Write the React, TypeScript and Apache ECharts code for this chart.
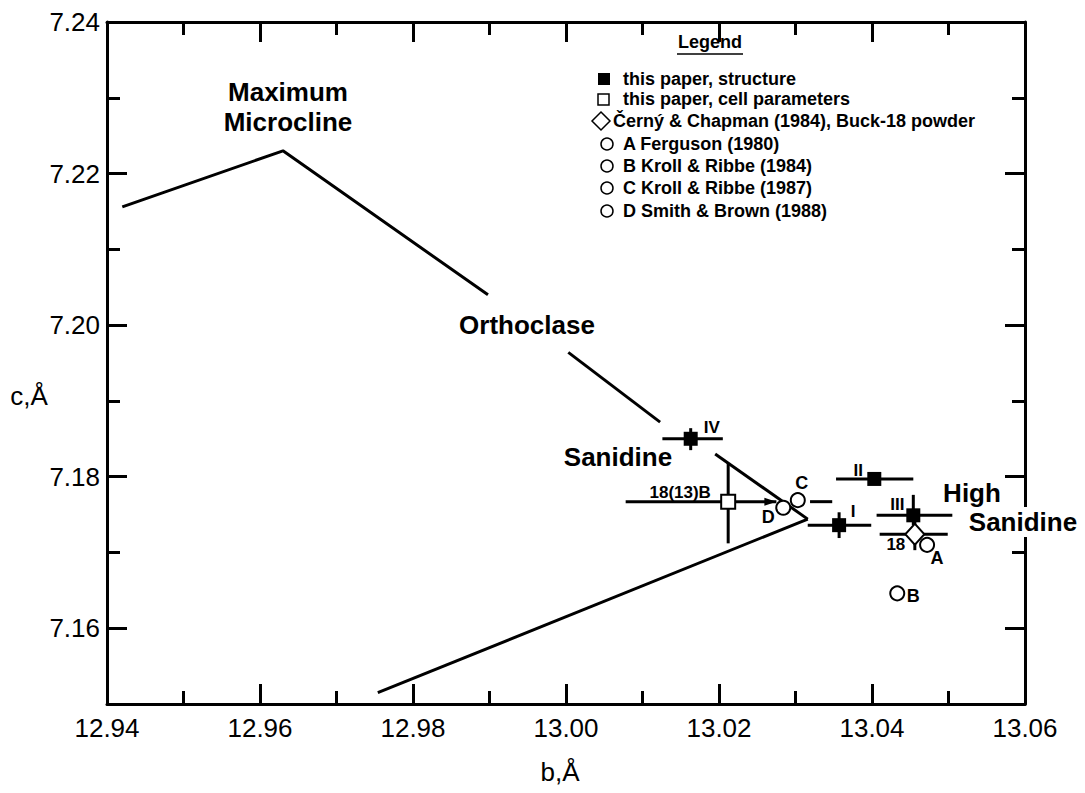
import React, { useEffect, useRef } from "react";
import * as echarts from "echarts";

// ---------- axis ticks ----------
const bTicksMajor = [12.94, 12.96, 12.98, 13.0, 13.02, 13.04, 13.06];
const bTicksMinor = [12.95, 12.97, 12.99, 13.01, 13.03, 13.05];
const cTicksMajor = [7.16, 7.18, 7.2, 7.22, 7.24];
const cTicksMinor = [7.17, 7.19, 7.21, 7.23];

// ---------- trend lines ----------
const microclineB = [12.942, 12.963, 12.9898];
const microclineC = [7.2156, 7.223, 7.204];
const orthoclaseB = [13.0003, 13.0123];
const orthoclaseC = [7.1964, 7.1872];
const sanidineUpperB = [13.0195, 13.0316];
const sanidineUpperC = [7.183, 7.1744];
const sanidineLowerB = [12.9754, 13.0316];
const sanidineLowerC = [7.1515, 7.1744];

// ---------- this paper, structure ----------
const structureNames = ["IV", "II", "I", "III"];
const structureB = [13.0163, 13.0403, 13.0357, 13.0454];
const structureC = [7.185, 7.1797, 7.1736, 7.1749];

// ---------- this paper, cell parameters ----------
const cellNames = ["18(13)B"];
const cellB = [13.0212];
const cellC = [7.1767];

// ---------- Černý & Chapman (1984) ----------
const buckNames = ["18"];
const buckB = [13.0456];
const buckC = [7.1724];

// ---------- literature ----------
const litNames = ["A", "B", "C", "D"];
const litB = [13.0472, 13.0433, 13.0303, 13.0284];
const litC = [7.171, 7.1646, 7.1769, 7.1759];

// ---------- error bars ----------
const errB = [13.0163, 13.0403, 13.0357, 13.0454, 13.0212, 13.0456, 13.0303];
const errC = [7.185, 7.1797, 7.1736, 7.1749, 7.1767, 7.1724, 7.1767];
const errBLo = [13.0126, 13.0353, 13.0316, 13.0406, 13.0078, 13.041, 13.0319];
const errBHi = [13.0205, 13.0454, 13.0399, 13.0505, 13.0275, 13.0499, 13.0348];
const errCLo = [7.1835, 7.1797, 7.1719, 7.1736, 7.1712, 7.1703, 7.1767];
const errCHi = [7.1864, 7.1797, 7.1753, 7.1776, 7.1818, 7.1745, 7.1767];
const errArrow = [0, 0, 0, 0, 1, 0, 0];

// ---------- legend ----------
const legendLabels = [
  "this paper, structure",
  "this paper, cell parameters",
  "Černý & Chapman (1984), Buck-18 powder",
  "A Ferguson (1980)",
  "B Kroll & Ribbe (1984)",
  "C Kroll & Ribbe (1987)",
  "D Smith & Brown (1988)",
];
const legendKinds = ["filled", "open", "diamond", "circle", "circle", "circle", "circle"];

// label offsets (layout, px)
const structureLabelOffsets = [[21, -11], [-16, -8], [14, -14], [-16, -11]];
const cellLabelOffsets = [[-48, -9]];
const buckLabelOffsets = [[-19, 10]];
const litLabelOffsets = [[10, 13], [16, 3], [4, -17], [-15, 9]];

const FONT = '"Liberation Sans", Arial, Helvetica, sans-serif';
const BLACK = "#000";

function pts(bs: number[], cs: number[]) {
  return bs.map((b, i) => [b, cs[i]]);
}

function labeled(names: string[], bs: number[], cs: number[], offs: number[][]) {
  return names.map((n, i) => ({
    name: n,
    value: [bs[i], cs[i]],
    label: { offset: offs[i] },
  }));
}

const pointLabel = {
  show: true,
  position: "inside",
  formatter: "{b}",
  color: BLACK,
  fontFamily: FONT,
  fontWeight: "bold",
  fontSize: 17,
};

function xAxisDef(position: string, ticks: number[], len: number, main: boolean, labels: boolean) {
  return {
    type: "value",
    position,
    min: 12.94,
    max: 13.06,
    splitLine: { show: false },
    axisLine: { show: main, onZero: false, lineStyle: { color: BLACK, width: 3 } },
    axisTick: { show: true, inside: true, length: len, customValues: ticks, lineStyle: { color: BLACK, width: 3 } },
    axisLabel: labels
      ? {
          show: true,
          customValues: ticks,
          formatter: (v: number) => v.toFixed(2),
          color: BLACK,
          fontFamily: FONT,
          fontSize: 26,
          margin: 11,
        }
      : { show: false },
  };
}

function yAxisDef(position: string, ticks: number[], len: number, main: boolean, labels: boolean) {
  return {
    type: "value",
    position,
    min: 7.15,
    max: 7.24,
    splitLine: { show: false },
    axisLine: { show: main, onZero: false, lineStyle: { color: BLACK, width: 3 } },
    axisTick: { show: true, inside: true, length: len, customValues: ticks, lineStyle: { color: BLACK, width: 3 } },
    axisLabel: labels
      ? {
          show: true,
          customValues: ticks,
          formatter: (v: number) => v.toFixed(2),
          color: BLACK,
          fontFamily: FONT,
          fontSize: 26,
          margin: 7,
        }
      : { show: false },
  };
}

function lineSeries(name: string, bs: number[], cs: number[]) {
  return {
    type: "line",
    name,
    data: pts(bs, cs),
    symbol: "none",
    lineStyle: { color: BLACK, width: 3 },
    z: 3,
  };
}

function buildLegendGraphics() {
  const rowsY = [79, 99, 121, 144, 166, 188, 211];
  const els: any[] = [
    {
      type: "text",
      z: 20,
      style: {
        text: "Legend",
        x: 710,
        y: 42,
        textAlign: "center",
        textVerticalAlign: "middle",
        fontFamily: FONT,
        fontWeight: "bold",
        fontSize: 18,
        fill: BLACK,
      },
    },
    { type: "line", z: 20, shape: { x1: 677, y1: 54, x2: 743, y2: 54 }, style: { stroke: BLACK, lineWidth: 1.5 } },
  ];
  legendLabels.forEach((t, i) => {
    const y = rowsY[i];
    const kind = legendKinds[i];
    let tx = 623;
    if (kind === "filled") {
      els.push({ type: "rect", z: 20, shape: { x: 598, y: y - 6, width: 12, height: 12 }, style: { fill: BLACK } });
    } else if (kind === "open") {
      els.push({ type: "rect", z: 20, shape: { x: 598, y: y - 5, width: 11, height: 11 }, style: { fill: "#fff", stroke: BLACK, lineWidth: 1.5 } });
    } else if (kind === "diamond") {
      els.push({
        type: "polygon",
        z: 20,
        shape: { points: [[601, y - 9], [610, y], [601, y + 9], [592, y]] },
        style: { fill: "#fff", stroke: BLACK, lineWidth: 1.5 },
      });
      tx = 613;
    } else {
      els.push({ type: "circle", z: 20, shape: { cx: 607, cy: y, r: 6 }, style: { fill: "#fff", stroke: BLACK, lineWidth: 1.5 } });
    }
    els.push({
      type: "text",
      z: 20,
      style: {
        text: t,
        x: tx,
        y,
        textAlign: "left",
        textVerticalAlign: "middle",
        fontFamily: FONT,
        fontWeight: "bold",
        fontSize: 18,
        fill: BLACK,
      },
    });
  });
  return els;
}

function annot(text: string, x: number, y: number, bg?: boolean) {
  return {
    type: "text",
    z: 20,
    style: {
      text,
      x,
      y,
      textAlign: "center",
      textVerticalAlign: "middle",
      fontFamily: FONT,
      fontWeight: "bold",
      fontSize: 26,
      fill: BLACK,
      backgroundColor: bg ? "#fff" : undefined,
      padding: bg ? [2, 2] : 0,
    },
  };
}

export default function App() {
  const ref = useRef<HTMLDivElement>(null);
  useEffect(() => {
    if (!ref.current) return;
    const chart = echarts.init(ref.current, null, { renderer: "svg" });
    const errData = errB.map((b, i) => [b, errC[i], errBLo[i], errBHi[i], errCLo[i], errCHi[i], errArrow[i]]);
    const option: any = {
      animation: false,
      backgroundColor: "#fff",
      grid: { left: 107, right: 60, top: 22, bottom: 89, containLabel: false },
      xAxis: [
        xAxisDef("bottom", bTicksMajor, 20, true, true),
        xAxisDef("bottom", bTicksMinor, 13, false, false),
        xAxisDef("top", bTicksMajor, 20, true, false),
        xAxisDef("top", bTicksMinor, 13, false, false),
      ],
      yAxis: [
        yAxisDef("left", cTicksMajor, 20, true, true),
        yAxisDef("left", cTicksMinor, 13, false, false),
        yAxisDef("right", cTicksMajor, 20, true, false),
        yAxisDef("right", cTicksMinor, 13, false, false),
      ],
      series: [
        lineSeries("Maximum Microcline trend", microclineB, microclineC),
        lineSeries("Orthoclase trend", orthoclaseB, orthoclaseC),
        lineSeries("Sanidine upper", sanidineUpperB, sanidineUpperC),
        lineSeries("Sanidine lower", sanidineLowerB, sanidineLowerC),
        {
          type: "custom",
          name: "error bars",
          data: errData,
          encode: { x: [0, 2, 3], y: [1, 4, 5] },
          z: 4,
          renderItem: (params: any, api: any) => {
            const c = api.value(1);
            const l = api.coord([api.value(2), c]);
            const r = api.coord([api.value(3), c]);
            const children: any[] = [
              { type: "line", shape: { x1: l[0], y1: l[1], x2: r[0], y2: r[1] }, style: { stroke: BLACK, lineWidth: 3 } },
            ];
            if (api.value(5) > api.value(4)) {
              const t = api.coord([api.value(0), api.value(5)]);
              const bt = api.coord([api.value(0), api.value(4)]);
              children.push({ type: "line", shape: { x1: t[0], y1: t[1], x2: bt[0], y2: bt[1] }, style: { stroke: BLACK, lineWidth: 3 } });
            }
            if (api.value(6) === 1) {
              children.push({
                type: "polygon",
                shape: { points: [[r[0] - 12, r[1] - 4], [r[0], r[1]], [r[0] - 12, r[1] + 4]] },
                style: { fill: BLACK },
              });
            }
            return { type: "group", children };
          },
        },
        {
          type: "scatter",
          name: "this paper, structure",
          data: labeled(structureNames, structureB, structureC, structureLabelOffsets),
          symbol: "rect",
          symbolSize: 14,
          itemStyle: { color: BLACK, opacity: 1 },
          label: pointLabel,
          z: 6,
        },
        {
          type: "scatter",
          name: "this paper, cell parameters",
          data: labeled(cellNames, cellB, cellC, cellLabelOffsets),
          symbol: "rect",
          symbolSize: 14,
          itemStyle: { color: "#fff", borderColor: BLACK, borderWidth: 2, opacity: 1 },
          label: pointLabel,
          z: 6,
        },
        {
          type: "scatter",
          name: "Černý & Chapman (1984), Buck-18 powder",
          data: labeled(buckNames, buckB, buckC, buckLabelOffsets),
          symbol: "diamond",
          symbolSize: [19, 21],
          itemStyle: { color: "#fff", borderColor: BLACK, borderWidth: 2, opacity: 1 },
          label: pointLabel,
          z: 6,
        },
        {
          type: "scatter",
          name: "literature",
          data: labeled(litNames, litB, litC, litLabelOffsets),
          symbol: "circle",
          symbolSize: 14,
          itemStyle: { color: "#fff", borderColor: BLACK, borderWidth: 2, opacity: 1 },
          label: { ...pointLabel, fontSize: 18 },
          z: 6,
        },
      ],
      graphic: [
        annot("Maximum", 288, 92),
        annot("Microcline", 288, 122),
        annot("Orthoclase", 527, 325),
        annot("Sanidine", 618, 457),
        annot("High", 972, 493),
        annot("Sanidine", 1023, 522, true),
        {
          type: "text",
          z: 20,
          style: { text: "c,Å", x: 29, y: 396, textAlign: "center", textVerticalAlign: "middle", fontFamily: FONT, fontSize: 26, fill: BLACK },
        },
        {
          type: "text",
          z: 20,
          style: { text: "b,Å", x: 560, y: 772, textAlign: "center", textVerticalAlign: "middle", fontFamily: FONT, fontSize: 26, fill: BLACK },
        },
        ...buildLegendGraphics(),
      ],
    };
    chart.setOption(option);
    return () => chart.dispose();
  }, []);
  return <div ref={ref} style={{ position: "absolute", left: 0, top: 0, width: 1085, height: 793 }} />;
}
